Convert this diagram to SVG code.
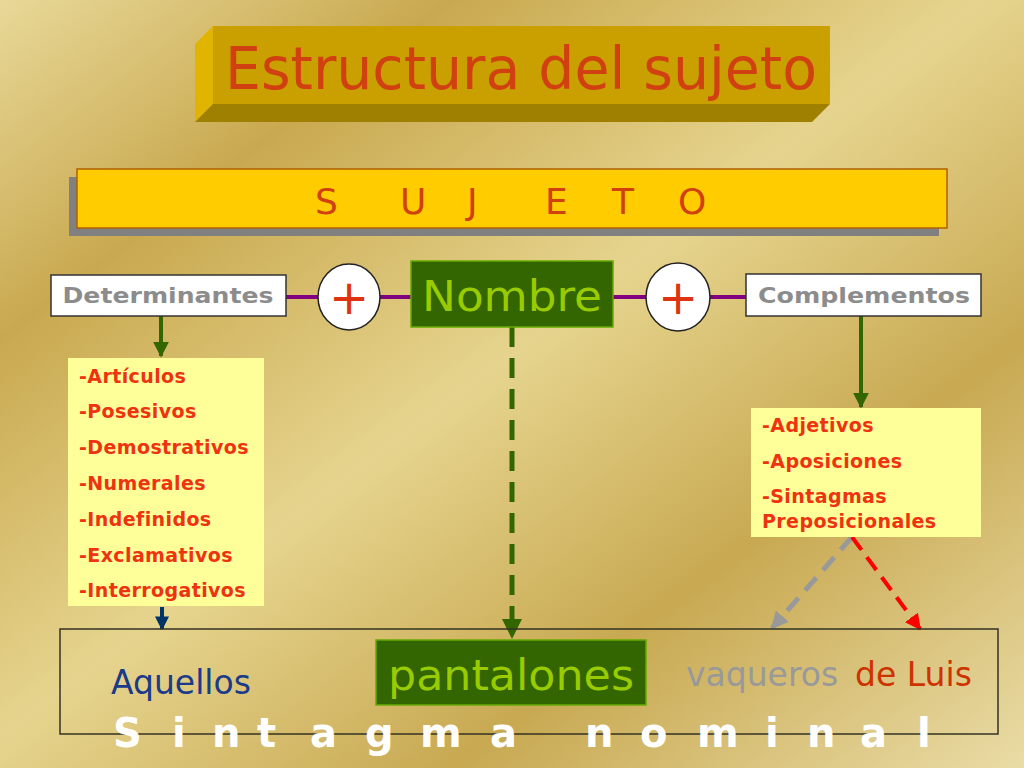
<svg xmlns="http://www.w3.org/2000/svg" width="1024" height="768" viewBox="0 0 1024 768">
<defs>
<linearGradient id="bg" x1="0" y1="0" x2="1" y2="1">
<stop offset="0" stop-color="#e8d898"/>
<stop offset="0.22" stop-color="#c9a950"/>
<stop offset="0.48" stop-color="#e6d48e"/>
<stop offset="0.72" stop-color="#c8a952"/>
<stop offset="1" stop-color="#eadca6"/>
</linearGradient>
<marker id="mGreen" viewBox="0 0 10 10" refX="9" refY="5" markerWidth="4" markerHeight="4" orient="auto" markerUnits="strokeWidth"><path d="M0,0L10,5L0,10z" fill="#336600"/></marker>
<marker id="mNavy" viewBox="0 0 10 10" refX="9" refY="5" markerWidth="3.5" markerHeight="3.5" orient="auto" markerUnits="strokeWidth"><path d="M0,0L10,5L0,10z" fill="#003366"/></marker>
<marker id="mGray" viewBox="0 0 10 10" refX="9" refY="5" markerWidth="3.5" markerHeight="3.5" orient="auto" markerUnits="strokeWidth"><path d="M0,0L10,5L0,10z" fill="#999999"/></marker>
<marker id="mRed" viewBox="0 0 10 10" refX="9" refY="5" markerWidth="4" markerHeight="4" orient="auto" markerUnits="strokeWidth"><path d="M0,0L10,5L0,10z" fill="#ff0000"/></marker>
<style>
text{font-family:"DejaVu Sans","Liberation Sans",sans-serif}
.box{fill:#ffffff;stroke:#333333;stroke-width:1.5}
.lbl{fill:#8c8c8c;font-weight:bold;font-size:22px}
.green{fill:#336600;stroke:#66aa00;stroke-width:1.5}
.gtxt{fill:#99cc00}
.yel{fill:#ffff99}
.item{fill:#ee3311;font-weight:bold;font-size:19px;letter-spacing:0.4px}
.plus{fill:#ffffff;stroke:#222222;stroke-width:1.5}
.ptxt{fill:#dd3311;font-size:48px}
.purple{stroke:#800080;stroke-width:4}
</style>
</defs>
<rect width="1024" height="768" fill="url(#bg)"/>

<g id="title">
<polygon points="195,44 213,26 213,104 195,122" fill="#e0b400"/>
<polygon points="213,104 830,104 812,122 195,122" fill="#a08000"/>
<rect x="213" y="26" width="617" height="78" fill="#c9a000"/>
<text x="521" y="89" text-anchor="middle" font-size="58" fill="#d04010" textLength="592" lengthAdjust="spacingAndGlyphs">Estructura del sujeto</text>
</g>

<g id="sujeto">
<rect x="69" y="177" width="870" height="59" fill="#808080"/>
<rect x="77" y="169" width="870" height="59" fill="#ffcc00" stroke="#b06000" stroke-width="1.5"/>
<text y="214" font-size="36" fill="#d04010"><tspan x="315">S</tspan><tspan x="400">U</tspan><tspan x="467">J</tspan><tspan x="545">E</tspan><tspan x="612">T</tspan><tspan x="678">O</tspan></text>
</g>

<g id="connectors">
<line class="purple" x1="286" y1="297" x2="318" y2="297"/>
<line class="purple" x1="380" y1="297" x2="411" y2="297"/>
<line class="purple" x1="613" y1="297" x2="646" y2="297"/>
<line class="purple" x1="710" y1="297" x2="746" y2="297"/>
<line x1="161" y1="316" x2="161" y2="356" stroke="#336600" stroke-width="4" marker-end="url(#mGreen)"/>
<line x1="861" y1="316" x2="861" y2="407" stroke="#336600" stroke-width="4" marker-end="url(#mGreen)"/>
<line x1="162" y1="607" x2="162" y2="629" stroke="#003366" stroke-width="4" marker-end="url(#mNavy)"/>
<line x1="512" y1="327" x2="512" y2="637" stroke="#336600" stroke-width="5" stroke-dasharray="20,11" marker-end="url(#mGreen)"/>
<line x1="852" y1="537" x2="772" y2="628" stroke="#999999" stroke-width="5" stroke-dasharray="17,10" marker-end="url(#mGray)"/>
<line x1="852" y1="537" x2="920" y2="629" stroke="#ff0000" stroke-width="4" stroke-dasharray="16,9" marker-end="url(#mRed)"/>
</g>

<g id="determinantes">
<rect class="box" x="51" y="275" width="235" height="41"/>
<text class="lbl" x="168" y="303" text-anchor="middle" textLength="211" lengthAdjust="spacingAndGlyphs">Determinantes</text>
</g>

<g id="plus1">
<ellipse class="plus" cx="349" cy="297" rx="31" ry="33"/>
<text class="ptxt" x="349" y="314" text-anchor="middle">+</text>
</g>

<g id="nombre">
<rect class="green" x="411" y="261" width="202" height="66"/>
<text class="gtxt" x="512" y="311" text-anchor="middle" font-size="42" textLength="180" lengthAdjust="spacingAndGlyphs">Nombre</text>
</g>

<g id="plus2">
<ellipse class="plus" cx="678" cy="297" rx="32" ry="34"/>
<text class="ptxt" x="678" y="314" text-anchor="middle">+</text>
</g>

<g id="complementos">
<rect class="box" x="746" y="274" width="235" height="42"/>
<text class="lbl" x="864" y="303" text-anchor="middle" textLength="212" lengthAdjust="spacingAndGlyphs">Complementos</text>
</g>

<g id="listaDet">
<rect class="yel" x="68" y="358" width="196" height="248"/>
<text class="item" x="79" y="383">-Artículos</text>
<text class="item" x="79" y="418">-Posesivos</text>
<text class="item" x="79" y="454">-Demostrativos</text>
<text class="item" x="79" y="490">-Numerales</text>
<text class="item" x="79" y="526">-Indefinidos</text>
<text class="item" x="79" y="562">-Exclamativos</text>
<text class="item" x="79" y="597">-Interrogativos</text>
</g>

<g id="listaComp">
<rect class="yel" x="751" y="408" width="230" height="129"/>
<text class="item" x="762" y="432">-Adjetivos</text>
<text class="item" x="762" y="468">-Aposiciones</text>
<text class="item" x="762" y="503">-Sintagmas</text>
<text class="item" x="762" y="528">Preposicionales</text>
</g>

<g id="sintagma">
<rect x="60" y="629" width="938" height="105" fill="none" stroke="#333322" stroke-width="1.5"/>
<text x="111" y="694" font-size="33" fill="#1a3a8a">Aquellos</text>
<rect class="green" x="376" y="640" width="270" height="65"/>
<text class="gtxt" x="511" y="690" text-anchor="middle" font-size="42" textLength="246" lengthAdjust="spacingAndGlyphs">pantalones</text>
<text x="686" y="686" font-size="33" fill="#999999">vaqueros</text>
<text x="855" y="686" font-size="33" fill="#cc3300">de Luis</text>
<text y="747" font-size="40" font-weight="bold" fill="#ffffff" x="113 172 212 257 310 365 420 490 540 585 640 697 765 807 860 917">Sintagma nominal</text>
</g>
</svg>
